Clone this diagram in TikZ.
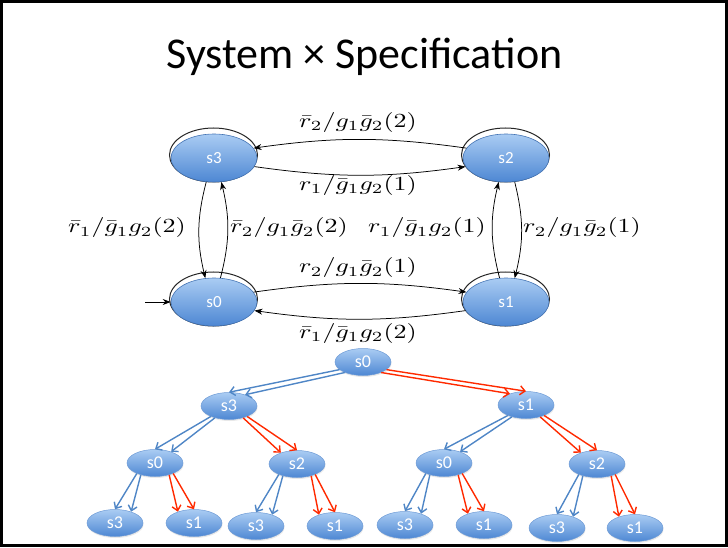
\documentclass[tikz,border=0pt]{standalone}
\usepackage{fontspec}
\newfontfamily\calib{Carlito}
\usetikzlibrary{shapes.geometric,arrows.meta,shadows}

\definecolor{nodetop}{HTML}{AACCF3}
\definecolor{nodebot}{HTML}{4D87D3}
\definecolor{nodeedge}{HTML}{4474B4}
\definecolor{leafedge}{HTML}{6E9BD6}
\definecolor{treeblue}{HTML}{4F86C6}
\definecolor{treered}{HTML}{FF2A00}

% stretched math label, set at 10pt and enlarged
\newcommand\lbl[1]{\scalebox{2.6}[2.0]{$#1$}}
% a pair of parallel transitions in the unrolled tree
\newcommand\bluepair[4]{\draw[bl] (#1.#3) -- (#2.north); \draw[bl] (#1.#4) -- (#2.35);}
\newcommand\redpair[4]{\draw[rd] (#1.#3) -- (#2.north); \draw[rd] (#1.#4) -- (#2.145);}

\tikzset{
  big/.style={ellipse, minimum width=86pt, minimum height=48pt, inner sep=0pt,
    top color=nodetop, bottom color=nodebot, draw=nodeedge, line width=0.6pt,
    text=white, font=\calib\fontsize{17}{19}\selectfont},
  rim/.style={draw=black!85, line width=1pt},
  small/.style={ellipse, minimum width=56pt, minimum height=27pt, inner sep=0pt,
    top color=nodetop, bottom color=nodebot, draw=leafedge, line width=0.5pt,
    text=white, font=\calib\fontsize{18}{20}\selectfont,
    drop shadow={opacity=0.18, shadow xshift=0.5pt, shadow yshift=-1.5pt}},
  tr/.style={black, line width=0.75pt, -{Stealth[length=8pt,width=6pt]}},
  lab/.style={inner sep=1pt},
  bl/.style={treeblue, line width=1.4pt, -{Straight Barb[length=5pt,width=9pt]}},
  rd/.style={treered, line width=1.4pt, -{Straight Barb[length=5pt,width=9pt]}},
  frame/.style={draw=black, line width=2.5pt}
}

\begin{document}
\begin{tikzpicture}[x=1pt,y=1pt]
\useasboundingbox (0,0) rectangle (728,547);
\draw[frame] (1.5,1.5) rectangle (726.5,545.5);

\node[font=\calib\fontsize{44}{48}\selectfont] (title) at (364.5,490) {System × Specification};

% product automaton: outline rings behind the shaded states
\draw[rim] (213.5,392) ellipse [x radius=44pt, y radius=27pt];
\draw[rim] (505.5,392) ellipse [x radius=44pt, y radius=27pt];
\draw[rim] (213.5,248) ellipse [x radius=44pt, y radius=27pt];
\draw[rim] (505.5,248) ellipse [x radius=44pt, y radius=27pt];
\node[big] (A3) at (214,389) {s3};
\node[big] (A2) at (506,389) {s2};
\node[big] (A0) at (214,245) {s0};
\node[big] (A1) at (506,245) {s1};

\coordinate (init) at (145,245);
\draw[tr] (init) -- (A0.west);

\draw[tr] (A2.166) to[bend right=8] (A3.14);
\draw[tr] (A3.-12) to[bend right=8] (A2.192);
\draw[tr] (A3.252) to[bend right=14] (A0.110);
\draw[tr] (A0.75) to[bend right=14] (A3.287);
\draw[tr] (A1.105) to[bend left=14] (A2.253);
\draw[tr] (A2.290) to[bend left=14] (A1.70);
\draw[tr] (A0.14) to[bend left=8] (A1.166);
\draw[tr] (A1.192) to[bend left=8] (A0.-12);

\node[lab] (l1) at (358,424) {\lbl{\bar r_2/g_1\bar g_2(2)}};
\node[lab] (l2) at (358,361) {\lbl{r_1/\bar g_1 g_2(1)}};
\node[lab] (l3) at (127,319) {\lbl{\bar r_1/\bar g_1 g_2(2)}};
\node[lab] (l4) at (289,319) {\lbl{\bar r_2/g_1\bar g_2(2)}};
\node[lab] (l5) at (427,319) {\lbl{r_1/\bar g_1 g_2(1)}};
\node[lab] (l6) at (582,319) {\lbl{r_2/g_1\bar g_2(1)}};
\node[lab] (l7) at (358,279) {\lbl{r_2/g_1\bar g_2(1)}};
\node[lab] (l8) at (358,214) {\lbl{\bar r_1/\bar g_1 g_2(2)}};

% unrolled computation tree
\node[small] (R)   at (363,185) {s0};
\node[small] (B3)  at (229,141) {s3};
\node[small] (B1)  at (526,142) {s1};
\node[small] (C0)  at (155,84) {s0};
\node[small] (C2)  at (297,83) {s2};
\node[small] (C0b) at (444,84) {s0};
\node[small] (C2b) at (597,83) {s2};
\node[small] (D3a) at (115,24) {s3};
\node[small] (D1a) at (194,24) {s1};
\node[small] (D3b) at (256,21) {s3};
\node[small] (D1b) at (335,21) {s1};
\node[small] (D3c) at (405,22) {s3};
\node[small] (D1c) at (484,22) {s1};
\node[small] (D3d) at (557,19) {s3};
\node[small] (D1d) at (635,19) {s1};

\bluepair{R}{B3}{198}{210}
\redpair{R}{B1}{342}{330}
\bluepair{B3}{C0}{210}{220}
\redpair{B3}{C2}{330}{320}
\bluepair{B1}{C0b}{210}{220}
\redpair{B1}{C2b}{330}{320}
\bluepair{C0}{D3a}{210}{220}
\redpair{C0}{D1a}{330}{320}
\bluepair{C2}{D3b}{210}{220}
\redpair{C2}{D1b}{330}{320}
\bluepair{C0b}{D3c}{210}{220}
\redpair{C0b}{D1c}{330}{320}
\bluepair{C2b}{D3d}{210}{220}
\redpair{C2b}{D1d}{330}{320}
\end{tikzpicture}
\end{document}
